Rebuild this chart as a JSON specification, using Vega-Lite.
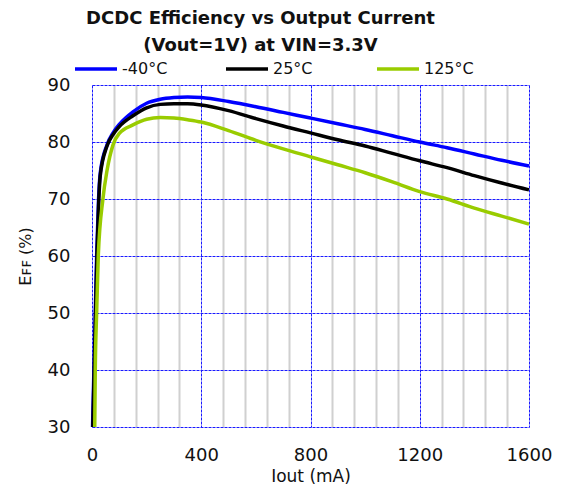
{
  "$schema": "https://vega.github.io/schema/vega-lite/v6.json",
  "width": 437,
  "height": 342,
  "autosize": {"type": "none"},
  "padding": {"left": 92, "top": 85, "right": 32, "bottom": 65},
  "background": "white",
  "title": {
    "text": ["DCDC Efficiency vs Output Current", "(Vout=1V) at VIN=3.3V"],
    "font": "DejaVu Sans",
    "fontSize": 18,
    "fontWeight": "bold",
    "color": "#111111",
    "anchor": "middle",
    "dx": -50,
    "offset": -9,
    "lineHeight": 27
  },
  "config": {
    "view": {"stroke": null},
    "font": "DejaVu Sans"
  },
  "data": {
    "values": [
      {"I": 2, "eff": 30, "temp": "-40°C"},
      {"I": 7, "eff": 40, "temp": "-40°C"},
      {"I": 12, "eff": 50, "temp": "-40°C"},
      {"I": 17, "eff": 60, "temp": "-40°C"},
      {"I": 24, "eff": 70, "temp": "-40°C"},
      {"I": 30, "eff": 74.5, "temp": "-40°C"},
      {"I": 55, "eff": 79.5, "temp": "-40°C"},
      {"I": 77, "eff": 81.6, "temp": "-40°C"},
      {"I": 100, "eff": 83.1, "temp": "-40°C"},
      {"I": 150, "eff": 85.3, "temp": "-40°C"},
      {"I": 200, "eff": 86.8, "temp": "-40°C"},
      {"I": 250, "eff": 87.5, "temp": "-40°C"},
      {"I": 300, "eff": 87.8, "temp": "-40°C"},
      {"I": 350, "eff": 87.9, "temp": "-40°C"},
      {"I": 400, "eff": 87.8, "temp": "-40°C"},
      {"I": 500, "eff": 87.1, "temp": "-40°C"},
      {"I": 600, "eff": 86.2, "temp": "-40°C"},
      {"I": 700, "eff": 85.2, "temp": "-40°C"},
      {"I": 800, "eff": 84.2, "temp": "-40°C"},
      {"I": 900, "eff": 83.2, "temp": "-40°C"},
      {"I": 1000, "eff": 82.2, "temp": "-40°C"},
      {"I": 1100, "eff": 81.1, "temp": "-40°C"},
      {"I": 1200, "eff": 80.0, "temp": "-40°C"},
      {"I": 1300, "eff": 79.0, "temp": "-40°C"},
      {"I": 1400, "eff": 77.9, "temp": "-40°C"},
      {"I": 1500, "eff": 76.8, "temp": "-40°C"},
      {"I": 1600, "eff": 75.8, "temp": "-40°C"},
      {"I": 3, "eff": 30, "temp": "25°C"},
      {"I": 8, "eff": 40, "temp": "25°C"},
      {"I": 13, "eff": 50, "temp": "25°C"},
      {"I": 18, "eff": 60, "temp": "25°C"},
      {"I": 25, "eff": 70, "temp": "25°C"},
      {"I": 30, "eff": 74, "temp": "25°C"},
      {"I": 55, "eff": 79.3, "temp": "25°C"},
      {"I": 77, "eff": 81.3, "temp": "25°C"},
      {"I": 100, "eff": 82.7, "temp": "25°C"},
      {"I": 150, "eff": 84.6, "temp": "25°C"},
      {"I": 200, "eff": 86.0, "temp": "25°C"},
      {"I": 250, "eff": 86.6, "temp": "25°C"},
      {"I": 300, "eff": 86.7, "temp": "25°C"},
      {"I": 350, "eff": 86.7, "temp": "25°C"},
      {"I": 400, "eff": 86.5, "temp": "25°C"},
      {"I": 500, "eff": 85.5, "temp": "25°C"},
      {"I": 600, "eff": 84.1, "temp": "25°C"},
      {"I": 700, "eff": 82.8, "temp": "25°C"},
      {"I": 800, "eff": 81.6, "temp": "25°C"},
      {"I": 900, "eff": 80.4, "temp": "25°C"},
      {"I": 1000, "eff": 79.3, "temp": "25°C"},
      {"I": 1100, "eff": 78.0, "temp": "25°C"},
      {"I": 1200, "eff": 76.7, "temp": "25°C"},
      {"I": 1300, "eff": 75.5, "temp": "25°C"},
      {"I": 1400, "eff": 74.1, "temp": "25°C"},
      {"I": 1500, "eff": 72.8, "temp": "25°C"},
      {"I": 1600, "eff": 71.6, "temp": "25°C"},
      {"I": 10, "eff": 30, "temp": "125°C"},
      {"I": 12, "eff": 40, "temp": "125°C"},
      {"I": 17, "eff": 50, "temp": "125°C"},
      {"I": 23, "eff": 60, "temp": "125°C"},
      {"I": 40, "eff": 70, "temp": "125°C"},
      {"I": 55, "eff": 75, "temp": "125°C"},
      {"I": 77, "eff": 79.5, "temp": "125°C"},
      {"I": 100, "eff": 81.5, "temp": "125°C"},
      {"I": 150, "eff": 83.0, "temp": "125°C"},
      {"I": 200, "eff": 84.0, "temp": "125°C"},
      {"I": 250, "eff": 84.3, "temp": "125°C"},
      {"I": 300, "eff": 84.2, "temp": "125°C"},
      {"I": 350, "eff": 83.9, "temp": "125°C"},
      {"I": 400, "eff": 83.5, "temp": "125°C"},
      {"I": 500, "eff": 82.0, "temp": "125°C"},
      {"I": 600, "eff": 80.3, "temp": "125°C"},
      {"I": 700, "eff": 78.8, "temp": "125°C"},
      {"I": 800, "eff": 77.4, "temp": "125°C"},
      {"I": 900, "eff": 76.0, "temp": "125°C"},
      {"I": 1000, "eff": 74.6, "temp": "125°C"},
      {"I": 1100, "eff": 73.0, "temp": "125°C"},
      {"I": 1200, "eff": 71.3, "temp": "125°C"},
      {"I": 1300, "eff": 70.0, "temp": "125°C"},
      {"I": 1400, "eff": 68.4, "temp": "125°C"},
      {"I": 1500, "eff": 67.0, "temp": "125°C"},
      {"I": 1600, "eff": 65.6, "temp": "125°C"}
    ]
  },
  "mark": {"type": "line", "strokeWidth": 3.5, "interpolate": "monotone"},
  "encoding": {
    "x": {
      "field": "I",
      "type": "quantitative",
      "scale": {"domain": [0, 1600], "nice": false, "zero": false},
      "axis": {
        "title": "Iout (mA)",
        "values": [0, 80, 160, 240, 320, 400, 480, 560, 640, 720, 800, 880, 960, 1040, 1120, 1200, 1280, 1360, 1440, 1520, 1600],
        "labelExpr": "datum.value % 400 === 0 ? datum.label : ''",
        "format": "d",
        "domain": false,
        "ticks": false,
        "labelFontSize": 18,
        "labelColor": "#111111",
        "labelPadding": 19,
        "labelFlush": false,
        "titleFontSize": 17,
        "titleFontWeight": "normal",
        "titleColor": "#111111",
        "titlePadding": 4,
        "grid": true,
        "gridColor": {"condition": {"test": "datum.value % 400 === 0", "value": "#1a1aff"}, "value": "#d0d0d0"},
        "gridDash": {"condition": {"test": "datum.value % 400 === 0", "value": [3, 1]}, "value": []},
        "gridWidth": {"condition": {"test": "datum.value % 400 === 0", "value": 1}, "value": 2},
        "gridOpacity": 1
      }
    },
    "y": {
      "field": "eff",
      "type": "quantitative",
      "scale": {"domain": [30, 90], "nice": false, "zero": false},
      "axis": {
        "title": "Eꜰꜰ (%)",
        "values": [30, 40, 50, 60, 70, 80, 90],
        "domain": false,
        "ticks": false,
        "labelFontSize": 18,
        "labelColor": "#111111",
        "labelPadding": 22,
        "titleFontSize": 16,
        "titleFontWeight": "normal",
        "titleColor": "#111111",
        "titlePadding": 14,
        "grid": true,
        "gridColor": "#1a1aff",
        "gridDash": [3, 1],
        "gridWidth": 1,
        "gridOpacity": 1
      }
    },
    "color": {
      "field": "temp",
      "type": "nominal",
      "scale": {"domain": ["-40°C", "25°C", "125°C"], "range": ["#0000ff", "#000000", "#99cc00"]},
      "legend": {
        "title": null,
        "orient": "none",
        "legendX": -19,
        "legendY": -39,
        "direction": "horizontal",
        "columns": 3,
        "gridAlign": "all",
        "columnPadding": 47,
        "padding": 0,
        "symbolType": "stroke",
        "symbolSize": 1764,
        "symbolStrokeWidth": 3.5,
        "labelFontSize": 16,
        "labelColor": "#111111",
        "labelOffset": 3,
        "labelFont": "DejaVu Sans"
      }
    }
  }
}
